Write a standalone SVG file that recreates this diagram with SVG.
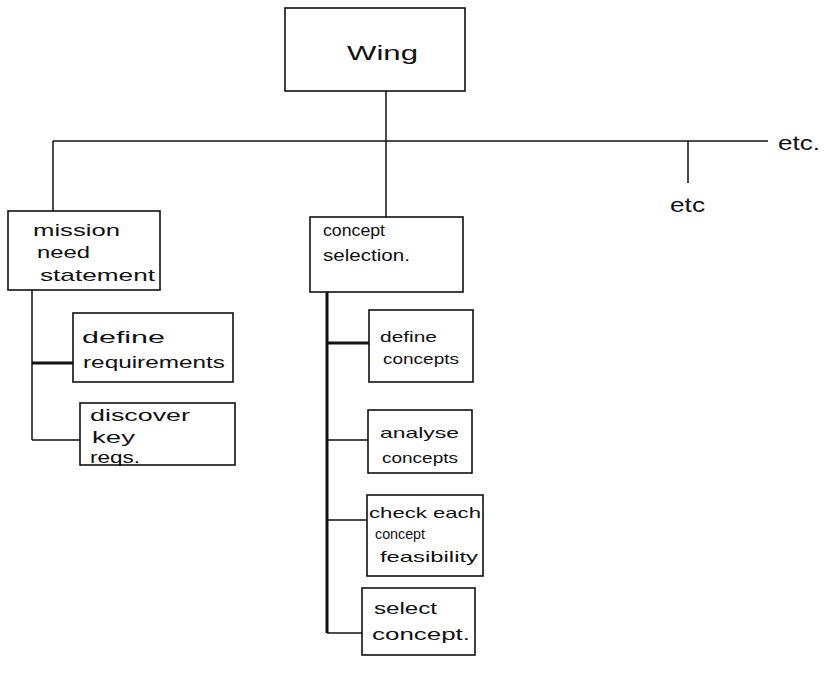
<svg xmlns="http://www.w3.org/2000/svg" width="826" height="675" viewBox="0 0 826 675">
<style>
.box{fill:#fff;stroke:#111;stroke-width:1.6}
.ln{stroke:#111;stroke-width:1.5;fill:none}
.thick{stroke:#111;stroke-width:3;fill:none}
text{font-family:"Liberation Sans",Arial,sans-serif;fill:#111}
.t{font-size:17px}
.s{font-size:15px}
.big{font-size:21px}
</style>
<rect width="826" height="675" fill="#fff"/>
<g id="connectors">
<line class="ln" x1="386" y1="91" x2="386" y2="141"/>
<line class="ln" x1="53" y1="141" x2="768" y2="141"/>
<line class="ln" x1="53" y1="141" x2="53" y2="211"/>
<line class="ln" x1="386" y1="141" x2="386" y2="217"/>
<line class="ln" x1="688" y1="141" x2="688" y2="183"/>
<line class="ln" x1="32" y1="290" x2="32" y2="440"/>
<line class="thick" x1="32" y1="363" x2="73" y2="363"/>
<line class="ln" x1="32" y1="440" x2="80" y2="440"/>
<line class="thick" x1="327" y1="292" x2="327" y2="633"/>
<line class="thick" x1="327" y1="343" x2="369" y2="343"/>
<line class="ln" x1="327" y1="440" x2="368" y2="440"/>
<line class="ln" x1="327" y1="520" x2="367" y2="520"/>
<line class="ln" x1="327" y1="633" x2="362" y2="633"/>
</g>
<g id="wing">
<rect class="box" x="285" y="8" width="180" height="83"/>
<text class="big" x="347" y="60" textLength="71" lengthAdjust="spacingAndGlyphs">Wing</text>
</g>
<g id="etc1">
<text class="big" x="778" y="150" textLength="42" lengthAdjust="spacingAndGlyphs">etc.</text>
</g>
<g id="etc2">
<text class="big" x="670" y="212" textLength="35" lengthAdjust="spacingAndGlyphs">etc</text>
</g>
<g id="mission">
<rect class="box" x="8" y="211" width="152" height="79"/>
<text class="t" x="33" y="236" textLength="87" lengthAdjust="spacingAndGlyphs">mission</text>
<text class="t" x="37" y="258" textLength="53" lengthAdjust="spacingAndGlyphs">need</text>
<text class="t" x="40" y="281" textLength="115" lengthAdjust="spacingAndGlyphs">statement</text>
</g>
<g id="define-req">
<rect class="box" x="73" y="313" width="160" height="69"/>
<text class="t" x="82" y="343" textLength="83" lengthAdjust="spacingAndGlyphs">define</text>
<text class="t" x="83" y="368" textLength="142" lengthAdjust="spacingAndGlyphs">requirements</text>
</g>
<g id="discover">
<rect class="box" x="80" y="403" width="155" height="62"/>
<text class="t" x="90" y="421" textLength="100" lengthAdjust="spacingAndGlyphs">discover</text>
<text class="t" x="92" y="443" textLength="43" lengthAdjust="spacingAndGlyphs">key</text>
<text class="t" x="90" y="463" textLength="50" lengthAdjust="spacingAndGlyphs">reqs.</text>
</g>
<g id="concept-sel">
<rect class="box" x="310" y="217" width="153" height="75"/>
<text class="t" x="323" y="236" textLength="62" lengthAdjust="spacingAndGlyphs">concept</text>
<text class="t" x="323" y="261" textLength="87" lengthAdjust="spacingAndGlyphs">selection.</text>
</g>
<g id="define-con">
<rect class="box" x="369" y="310" width="104" height="72"/>
<text class="s" x="380" y="342" textLength="57" lengthAdjust="spacingAndGlyphs">define</text>
<text class="s" x="383" y="364" textLength="76" lengthAdjust="spacingAndGlyphs">concepts</text>
</g>
<g id="analyse">
<rect class="box" x="368" y="410" width="104" height="63"/>
<text class="s" x="380" y="438" textLength="79" lengthAdjust="spacingAndGlyphs">analyse</text>
<text class="s" x="382" y="463" textLength="76" lengthAdjust="spacingAndGlyphs">concepts</text>
</g>
<g id="check">
<rect class="box" x="367" y="495" width="116" height="81"/>
<text class="s" x="369" y="518" textLength="112" lengthAdjust="spacingAndGlyphs">check each</text>
<text class="s" x="375" y="539" textLength="50" lengthAdjust="spacingAndGlyphs">concept</text>
<text class="s" x="380" y="562" textLength="98" lengthAdjust="spacingAndGlyphs">feasibility</text>
</g>
<g id="select">
<rect class="box" x="362" y="588" width="113" height="67"/>
<text class="t" x="374" y="614" textLength="63" lengthAdjust="spacingAndGlyphs">select</text>
<text class="t" x="372" y="640" textLength="98" lengthAdjust="spacingAndGlyphs">concept.</text>
</g>
</svg>
